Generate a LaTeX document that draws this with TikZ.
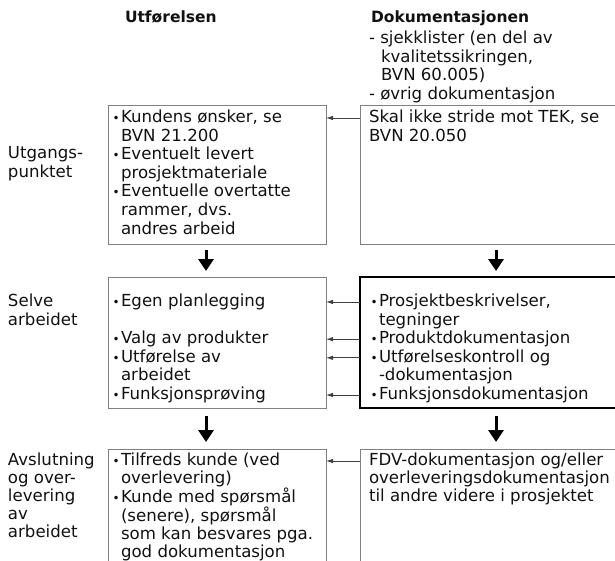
\documentclass[tikz,border=0pt]{standalone}
\usepackage{fontspec}
\setmainfont{DejaVu Sans}
\usetikzlibrary{arrows.meta}
\definecolor{boxgray}{HTML}{808080}
\definecolor{txtc}{HTML}{111111}
\newcommand{\stt}{\rule{0pt}{14pt}}
\newcommand{\bl}{\makebox[8pt][l]{\hspace{-0.5pt}\fontsize{12}{12}\selectfont •}}
\newcommand{\ind}{\hspace*{8pt}}
\newcommand{\dind}{\hspace*{12pt}}
\begin{document}
\begin{tikzpicture}[x=1pt,y=-1pt,
  box/.style={draw=boxgray, line width=0.9pt, inner sep=0pt, outer sep=0pt, anchor=north west},
  thickbox/.style={draw=black, line width=2pt, inner sep=0pt, outer sep=0pt, anchor=north west},
  txt/.style={anchor=north west, inner sep=0pt, outer sep=0pt, align=left, text=txtc,
    font=\fontsize{16.6}{18.6}\selectfont},
  txtb/.style={txt, font=\fontsize{16.6}{18}\selectfont},
  head/.style={anchor=base west, inner sep=0pt, outer sep=0pt, text=txtc,
    font=\bfseries\fontsize{15.5}{18}\selectfont},
  conn/.style={draw=black!75, line width=0.8pt, -{Latex[length=7pt,width=4.5pt]}},
  downarr/.style={draw=black, line width=3pt, -{Triangle[length=12pt,width=15pt]}}]
\useasboundingbox (0,0) rectangle (615,561);
\clip (0,0) rectangle (615,561);

% headings
\node[head] (h1) at (125,23) {Utførelsen};
\node[head] (h2) at (371,23) {Dokumentasjonen};
\node[txt] (h2list) at (369,29.7) {\stt- sjekklister (en del av\\
\dind kvalitetssikringen,\\
\dind BVN 60.005)\\
- øvrig dokumentasjon};

% boxes
\node[box, minimum width=218pt, minimum height=139pt] (b1l) at (108,105) {};
\node[box, minimum width=300pt, minimum height=139pt] (b1r) at (360,105) {};
\node[box, minimum width=218pt, minimum height=131pt] (b2l) at (108,277) {};
\node[thickbox, minimum width=300pt, minimum height=131pt] (b2r) at (360,277) {};
\node[box, minimum width=218pt, minimum height=150pt] (b3l) at (108,449) {};
\node[box, minimum width=300pt, minimum height=150pt] (b3r) at (360,449) {};

% row labels
\node[txt] (l1) at (8,145) {\stt Utgangs-\\punktet};
\node[txt] (l2) at (8,292.5) {\stt Selve\\arbeidet};
\node[txtb] (l3) at (8,451.5) {\stt Avslutning\\og over-\\levering\\av\\arbeidet};

% box texts
\node[txt] (t1l) at (113,108.5) {\stt\bl Kundens ønsker, se\\
\ind BVN 21.200\\
\bl Eventuelt levert\\
\ind prosjektmateriale\\
\bl Eventuelle overtatte\\
\ind rammer, dvs.\\
\ind andres arbeid};
\node[txt] (t1r) at (369,108.5) {\stt Skal ikke stride mot TEK, se\\BVN 20.050};

\node[txt] (t2l) at (113,292.5) {\stt\bl Egen planlegging\\
\mbox{}\\
\bl Valg av produkter\\
\bl Utførelse av\\
\ind arbeidet\\
\bl Funksjonsprøving};
\node[txt] (t2r) at (371,292.5) {\stt\bl Prosjektbeskrivelser,\\
\ind tegninger\\
\bl Produktdokumentasjon\\
\bl Utførelseskontroll og\\
\ind -dokumentasjon\\
\bl Funksjonsdokumentasjon};

\node[txtb] (t3l) at (113,451.5) {\stt\bl Tilfreds kunde (ved\\
\ind overlevering)\\
\bl Kunde med spørsmål\\
\ind (senere), spørsmål\\
\ind som kan besvares pga.\\
\ind god dokumentasjon};
\node[txtb] (t3r) at (369,451.5) {\stt FDV-dokumentasjon og/eller\\
overleveringsdokumentasjon\\
til andre videre i prosjektet};

% connector levels
\coordinate (r1) at (0,118);
\coordinate (r2a) at (0,302);
\coordinate (r2b) at (0,339.2);
\coordinate (r2c) at (0,357.8);
\coordinate (r2d) at (0,395);
\coordinate (r3) at (0,461);
\draw[conn] (b1r.west |- r1) -- (b1l.east |- r1);
\draw[conn] (b2r.west |- r2a) -- (b2l.east |- r2a);
\draw[conn] (b2r.west |- r2b) -- (b2l.east |- r2b);
\draw[conn] (b2r.west |- r2c) -- (b2l.east |- r2c);
\draw[conn] (b2r.west |- r2d) -- (b2l.east |- r2d);
\draw[conn] (b3r.west |- r3) -- (b3l.east |- r3);

% down arrows
\coordinate (al) at (206,0);
\coordinate (ar) at (496,0);
\draw[downarr, shorten <=6pt, shorten >=6pt] (b1l.south -| al) -- (b2l.north -| al);
\draw[downarr, shorten <=6pt, shorten >=6pt] (b1r.south -| ar) -- (b2r.north -| ar);
\draw[downarr, shorten <=8pt, shorten >=7pt] (b2l.south -| al) -- (b3l.north -| al);
\draw[downarr, shorten <=8pt, shorten >=7pt] (b2r.south -| ar) -- (b3r.north -| ar);
\end{tikzpicture}
\end{document}
